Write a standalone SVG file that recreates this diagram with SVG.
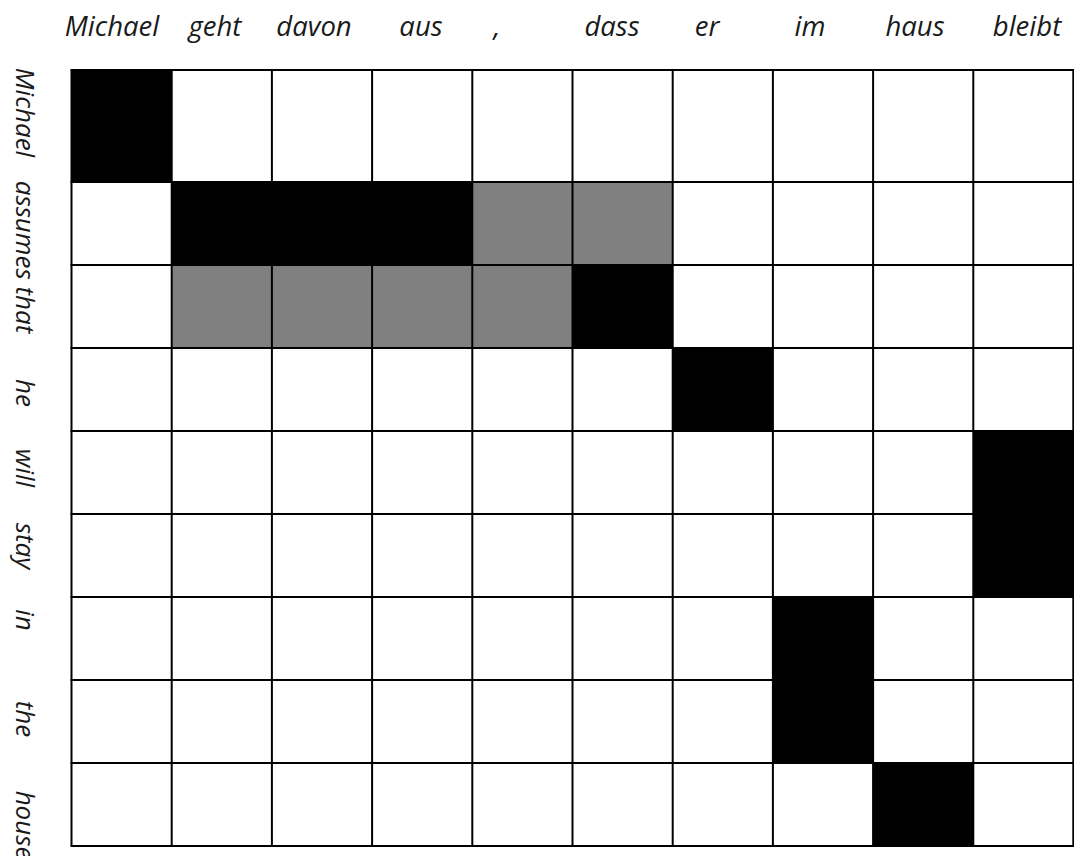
<svg xmlns="http://www.w3.org/2000/svg" width="1074" height="856" viewBox="0 0 1074 856">
<style>
.lbl{font-family:"Open Sans","DejaVu Sans",sans-serif;font-style:italic;fill:#1a1a1a;text-anchor:middle}
.top{font-size:27.5px}
.side{font-size:26px}
.blk{fill:#000}
.gry{fill:#808080}
.grid line{stroke:#000;stroke-width:2}
</style>
<rect width="1074" height="856" fill="#fff"/>
<g id="cells">
<rect class="blk" x="71.5" y="70" width="100.2" height="112"/>
<rect class="blk" x="171.7" y="182" width="300.6" height="83"/>
<rect class="gry" x="472.3" y="182" width="200.4" height="83"/>
<rect class="gry" x="171.7" y="265" width="400.8" height="83"/>
<rect class="blk" x="572.5" y="265" width="100.2" height="83"/>
<rect class="blk" x="672.7" y="348" width="100.2" height="83"/>
<rect class="blk" x="973.3" y="431" width="100.2" height="166"/>
<rect class="blk" x="772.9" y="597" width="100.2" height="166"/>
<rect class="blk" x="873.1" y="763" width="100.2" height="83"/>
</g>
<g id="grid" class="grid">
<line x1="71.5" y1="70" x2="71.5" y2="846"/>
<line x1="171.7" y1="70" x2="171.7" y2="846"/>
<line x1="271.9" y1="70" x2="271.9" y2="846"/>
<line x1="372.1" y1="70" x2="372.1" y2="846"/>
<line x1="472.3" y1="70" x2="472.3" y2="846"/>
<line x1="572.5" y1="70" x2="572.5" y2="846"/>
<line x1="672.7" y1="70" x2="672.7" y2="846"/>
<line x1="772.9" y1="70" x2="772.9" y2="846"/>
<line x1="873.1" y1="70" x2="873.1" y2="846"/>
<line x1="973.3" y1="70" x2="973.3" y2="846"/>
<line x1="1073.3" y1="70" x2="1073.3" y2="846"/>
<line x1="70.5" y1="70" x2="1074" y2="70"/>
<line x1="70.5" y1="182" x2="1074" y2="182"/>
<line x1="70.5" y1="265" x2="1074" y2="265"/>
<line x1="70.5" y1="348" x2="1074" y2="348"/>
<line x1="70.5" y1="431" x2="1074" y2="431"/>
<line x1="70.5" y1="514" x2="1074" y2="514"/>
<line x1="70.5" y1="597" x2="1074" y2="597"/>
<line x1="70.5" y1="680" x2="1074" y2="680"/>
<line x1="70.5" y1="763" x2="1074" y2="763"/>
<line x1="70.5" y1="846" x2="1074" y2="846"/>
</g>
<g id="source-labels" class="lbl top">
<text x="112" y="36">Michael</text>
<text x="215" y="36">geht</text>
<text x="314" y="36">davon</text>
<text x="421" y="36">aus</text>
<text x="497" y="36">,</text>
<text x="612" y="36">dass</text>
<text x="707" y="36">er</text>
<text x="810" y="36">im</text>
<text x="915" y="36">haus</text>
<text x="1027" y="36">bleibt</text>
</g>
<g id="target-labels" class="lbl side">
<text transform="translate(16,112.5) rotate(90)">Michael</text>
<text transform="translate(16,257) rotate(90)">assumes that</text>
<text transform="translate(16,393) rotate(90)">he</text>
<text transform="translate(16,468) rotate(90)">will</text>
<text transform="translate(16,546) rotate(90)">stay</text>
<text transform="translate(16,620) rotate(90)">in</text>
<text transform="translate(16,719) rotate(90)">the</text>
<text transform="translate(16,825) rotate(90)">house</text>
</g>
</svg>
